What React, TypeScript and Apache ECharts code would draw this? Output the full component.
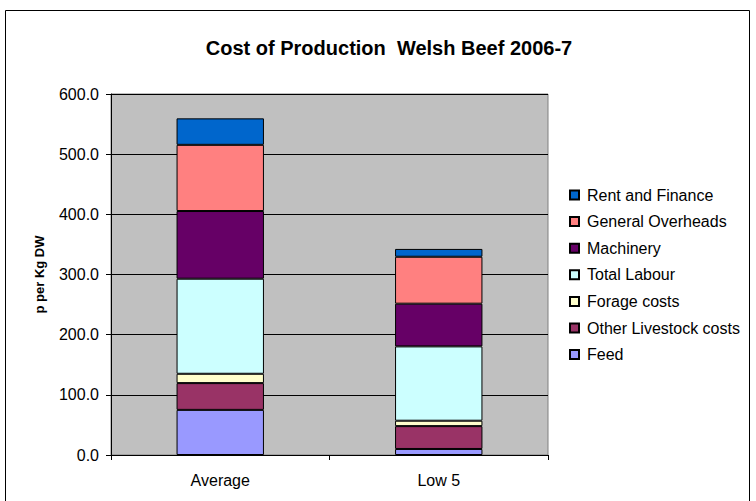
import React, { useEffect, useRef } from "react";
import * as echarts from "echarts";

const categories = ["Average", "Low 5"];
const seriesNames = [
  "Feed",
  "Other Livestock costs",
  "Forage costs",
  "Total Labour",
  "Machinery",
  "General Overheads",
  "Rent and Finance",
];
const feed = [75, 10];
const otherLivestock = [44.5, 38];
const forage = [15.5, 9];
const totalLabour = [158, 123.5];
const machinery = [112.5, 71];
const generalOverheads = [110, 78];
const rentFinance = [44, 13];
const colors = ["#9999FF", "#993366", "#FFFFCC", "#CCFFFF", "#660066", "#FF8080", "#0066CC"];
const yTicks = { min: 0, max: 600, interval: 100 };

export default function App() {
  const ref = useRef<HTMLDivElement>(null);
  useEffect(() => {
    if (!ref.current) return;
    const chart = echarts.init(ref.current, undefined, { renderer: "svg" });
    const values = [feed, otherLivestock, forage, totalLabour, machinery, generalOverheads, rentFinance];
    const font = "Liberation Sans, Arial, sans-serif";
    chart.setOption({
      animation: false,
      backgroundColor: "#ffffff",
      textStyle: { fontFamily: font },
      title: {
        text: "Cost of Production  Welsh Beef 2006-7",
        left: 384,
        textAlign: "center",
        top: 33,
        textStyle: { fontFamily: font, fontSize: 20, fontWeight: "bold", color: "#000" },
      },
      graphic: [
        {
          type: "rect",
          shape: { x: 5.5, y: 10.5, width: 744, height: 500 },
          style: { fill: "none", stroke: "#000", lineWidth: 1 },
          silent: true,
        },
      ],
      legend: {
        orient: "vertical",
        left: 569,
        top: 187,
        padding: 0,
        itemWidth: 9,
        itemHeight: 9,
        itemGap: 10.6,
        icon: "rect",
        data: seriesNames.slice().reverse(),
        textStyle: {
          fontFamily: font,
          fontSize: 16,
          lineHeight: 16,
          color: "#000",
          padding: [0, 0, 0, 3],
        },
      },
      grid: {
        left: 111,
        right: 208,
        top: 94,
        bottom: 46,
        show: true,
        backgroundColor: "#C0C0C0",
        borderColor: "#808080",
        borderWidth: 1,
      },
      xAxis: {
        type: "category",
        data: categories,
        axisLine: { lineStyle: { color: "#000" } },
        axisTick: { show: true, length: 5, lineStyle: { color: "#000" } },
        axisLabel: { fontFamily: font, fontSize: 16, color: "#000", margin: 17 },
      },
      yAxis: {
        type: "value",
        min: yTicks.min,
        max: yTicks.max,
        interval: yTicks.interval,
        name: "p per Kg DW",
        nameLocation: "middle",
        nameGap: 65,
        nameTextStyle: { fontFamily: font, fontSize: 13, fontWeight: "bold", color: "#000" },
        axisLine: { show: true, lineStyle: { color: "#000" } },
        axisTick: { show: true, length: 5, lineStyle: { color: "#000" } },
        axisLabel: {
          fontFamily: font,
          fontSize: 16,
          color: "#000",
          margin: 12,
          formatter: (v: number) => v.toFixed(1),
        },
        splitLine: { lineStyle: { color: "#000", width: 1 } },
      },
      series: seriesNames.map((name, i) => ({
        name,
        type: "bar",
        stack: "total",
        barWidth: "40%",
        data: values[i],
        itemStyle: { color: colors[i], borderColor: "#000", borderWidth: 1 },
      })),
    });
    return () => chart.dispose();
  }, []);
  return (
    <div
      ref={ref}
      style={{ position: "fixed", left: 0, top: 0, width: 756, height: 501 }}
    />
  );
}
